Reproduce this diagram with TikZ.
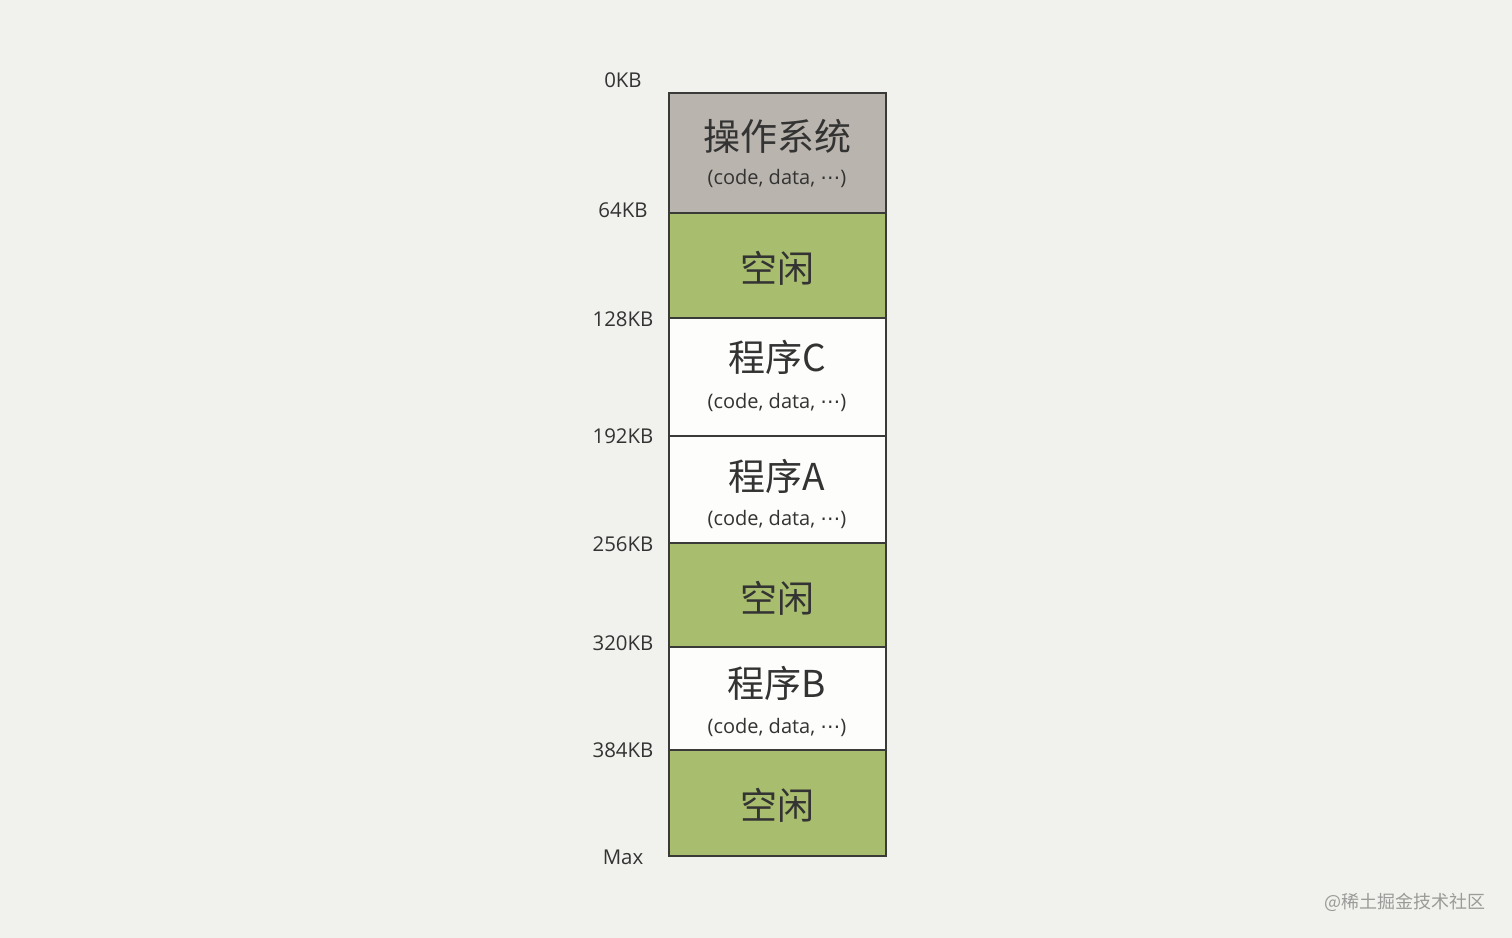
\documentclass[tikz,border=0pt]{standalone}
\usepackage{fontspec}
\setmainfont{Open Sans}
\newfontfamily\cjk{Noto Sans CJK SC}
\newfontfamily\dejavu{DejaVu Sans}
\definecolor{bg}{HTML}{F1F1ED}
\definecolor{osgray}{HTML}{B9B4AD}
\definecolor{freegreen}{HTML}{A9BD6E}
\definecolor{progwhite}{HTML}{FDFDFB}
\definecolor{edge}{HTML}{3A3A38}
\definecolor{txt}{HTML}{333333}
\definecolor{wm}{HTML}{9A9A98}
\newcommand{\dotsx}{{\dejavu ⋯}}
\tikzset{
  blockbox/.style={draw=edge, line width=1.2pt},
  maintext/.style={font=\cjk\fontsize{18.5}{20}\selectfont, text=txt, inner sep=0pt},
  subtext/.style={font=\fontsize{10}{12}\selectfont, text=txt, inner sep=0pt},
  addr/.style={font=\fontsize{10.2}{12}\selectfont, text=txt, inner sep=0pt},
}
\begin{document}
\begin{tikzpicture}[x=0.5pt,y=-0.5pt]
\fill[bg] (0,0) rectangle (1512,938);
\useasboundingbox (0,0) rectangle (1512,938);
% blocks
\draw[blockbox, fill=osgray] (669,93) rectangle (886,213);
\draw[blockbox, fill=freegreen] (669,213) rectangle (886,318);
\draw[blockbox, fill=progwhite] (669,318) rectangle (886,436);
\draw[blockbox, fill=progwhite] (669,436) rectangle (886,543);
\draw[blockbox, fill=freegreen] (669,543) rectangle (886,647);
\draw[blockbox, fill=progwhite] (669,647) rectangle (886,750);
\draw[blockbox, fill=freegreen] (669,750) rectangle (886,856);
% texts
\node[maintext] (os) at (777,136) {操作系统};
\node[subtext] (ossub) at (777,178) {(code, data, \dotsx)};
\node[maintext] (free1) at (777,268) {空闲};
\node[maintext] (progc) at (777,357) {程序C};
\node[subtext] (progcsub) at (777,402) {(code, data, \dotsx)};
\node[maintext] (proga) at (777,476) {程序A};
\node[subtext] (progasub) at (777,519) {(code, data, \dotsx)};
\node[maintext] (free2) at (777,598) {空闲};
\node[maintext] (progb) at (777,683) {程序B};
\node[subtext] (progbsub) at (777,727) {(code, data, \dotsx)};
\node[maintext] (free3) at (777,805) {空闲};
% addresses
\node[addr] (a0) at (623,80) {0KB};
\node[addr] (a64) at (623,210) {64KB};
\node[addr] (a128) at (623,319) {128KB};
\node[addr] (a192) at (623,436) {192KB};
\node[addr] (a256) at (623,544) {256KB};
\node[addr] (a320) at (623,643) {320KB};
\node[addr] (a384) at (623,750) {384KB};
\node[addr] (amax) at (623,857) {Max};
% watermark
\node[font=\cjk\fontsize{9}{10}\selectfont, text=wm, anchor=east, inner sep=0pt] (wmark) at (1486,902) {@稀土掘金技术社区};
\end{tikzpicture}
\end{document}
